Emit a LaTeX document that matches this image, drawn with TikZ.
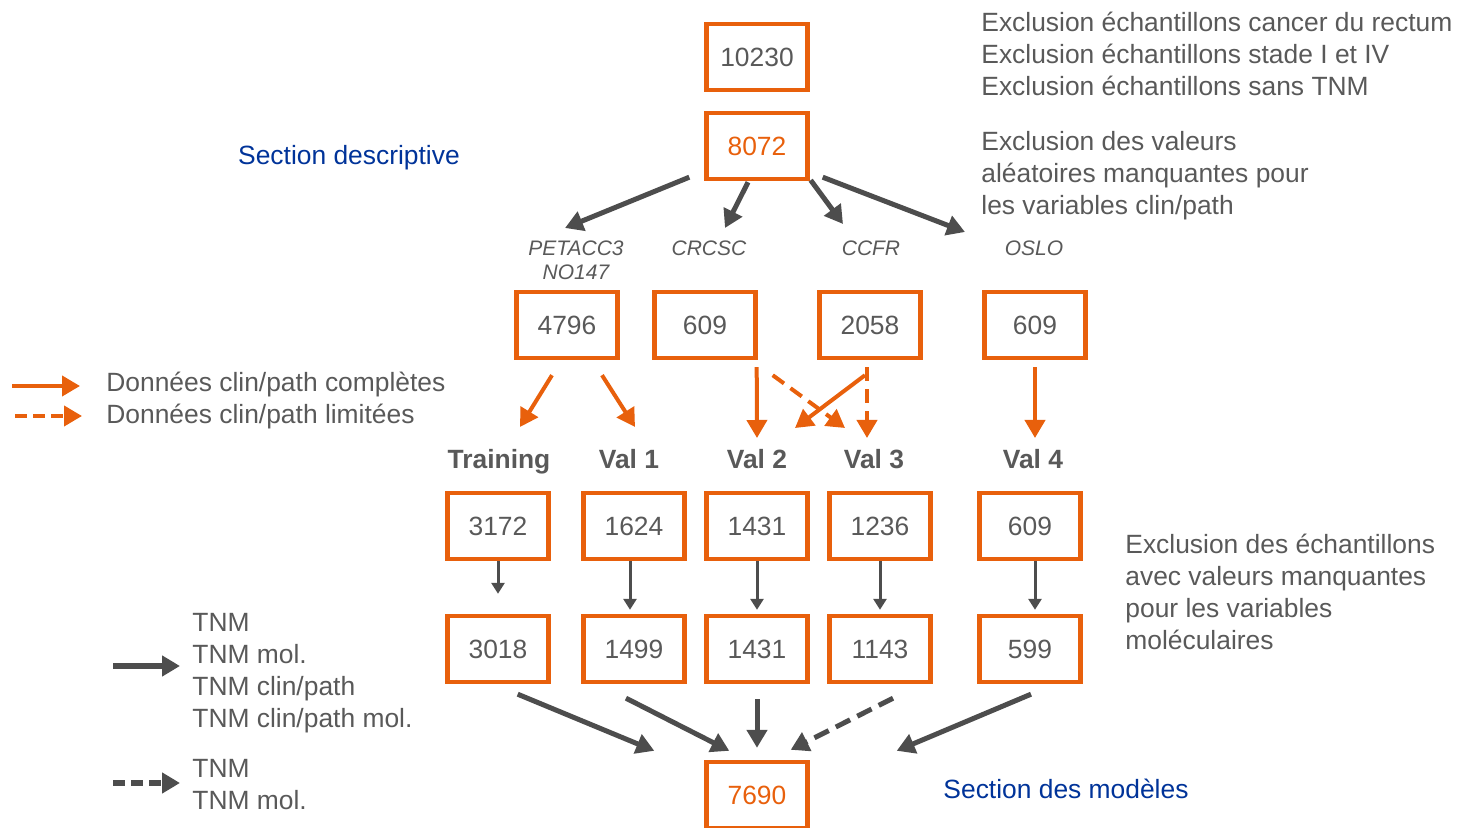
\documentclass[tikz,border=0pt]{standalone}
\usepackage{fontspec}
\setmainfont{Liberation Sans}
\usepackage{xcolor}
\usepackage{tikz}
\usetikzlibrary{positioning,calc}
\usetikzlibrary{arrows.meta,shapes}
\definecolor{orng}{RGB}{232,96,12}
\definecolor{dgray}{RGB}{77,77,77}
\definecolor{tgray}{RGB}{89,89,89}
\definecolor{dblue}{RGB}{0,51,153}
\tikzstyle{block} = [rectangle,draw=orng,line width=2.2pt,minimum width=50.5pt,minimum height=33pt,inner sep=0pt,text=tgray,font=\fontsize{13.2}{16}\selectfont]
\tikzstyle{lab} = [inner sep=0pt,align=center,text=tgray,font=\fontsize{10.5}{12}\selectfont\itshape]
\tikzstyle{head} = [inner sep=0pt,yshift=-1.5pt,text height=9.6pt,text depth=2.8pt,text=tgray,font=\fontsize{13.2}{16}\selectfont\bfseries]
\tikzstyle{txt} = [inner sep=0pt,yshift=-1.5pt,align=left,anchor=west,text=tgray,font=\fontsize{13.2}{16}\selectfont]
\tikzstyle{line} = [-{Triangle[length=9pt,width=10pt]},draw=dgray,line width=2.5pt]
\tikzstyle{oline} = [-{Triangle[length=9pt,width=10pt]},draw=orng,line width=2pt]
\tikzstyle{sline} = [-{Triangle[length=5.5pt,width=6.5pt]},draw=dgray,line width=1.5pt]

\begin{document}
\begin{tikzpicture}[x=0.5pt,y=-0.5pt]
        \useasboundingbox (0,0) rectangle (1458,828);
        % top of the tree
        \node[block] (n10230) at (757,57) {10230};
        \node[block,text=orng] (n8072) at (757,146) {8072};
        \node[txt,yshift=1.5pt] (excl1) at (981,54) {Exclusion échantillons cancer du rectum\\Exclusion échantillons stade I et IV\\Exclusion échantillons sans TNM};
        \node[txt] (excl2) at (981,173) {Exclusion des valeurs\\aléatoires manquantes pour\\les variables clin/path};
        \node[txt,anchor=center,text=dblue] (secdesc) at (349,155) {Section descriptive};
        % cohorts
        \node[lab] (lpetacc) at (576,260) {PETACC3\\NO147};
        \node[lab] (lcrcsc) at (709,248) {CRCSC};
        \node[lab] (lccfr) at (871,248) {CCFR};
        \node[lab] (loslo) at (1034,248) {OSLO};
        \node[block] (p4796) at (567,325) {4796};
        \node[block] (p609a) at (705,325) {609};
        \node[block] (p2058) at (870,325) {2058};
        \node[block] (p609b) at (1035,325) {609};
        \draw[line] ($(n8072.south west)+(-15,-4)$) -- ($(lpetacc)+(-11,-32)$);
        \draw[line] ($(n8072.south)+(-9,1)$) -- ($(lcrcsc)+(16,-20)$);
        \draw[line] ($(n8072.south east)+(1,-1)$) -- ($(lccfr)+(-28,-24)$);
        \draw[line] ($(n8072.south east)+(13,-4)$) -- ($(loslo)+(-69,-16)$);
        % orange legend
        \node[txt] (lgfull) at (106,382) {Données clin/path complètes};
        \node[txt] (lglim) at (106,414) {Données clin/path limitées};
        \draw[oline] ($(lgfull.west)+(-94,1)$) -- ($(lgfull.west)+(-26,1)$);
        \draw[oline,dash pattern=on 6pt off 3pt] ($(lglim.west)+(-91,-1)$) -- ($(lglim.west)+(-24,-1)$);
        % training / validation sets
        \node[head] (ltrain) at (499,459) {Training};
        \node[head] (lval1) at (629,459) {Val 1};
        \node[head] (lval2) at (757,459) {Val 2};
        \node[head] (lval3) at (874,459) {Val 3};
        \node[head] (lval4) at (1033,459) {Val 4};
        \draw[oline] ($(p4796.south)+(-15,15)$) -- ($(ltrain)+(21,-35)$);
        \draw[oline] ($(p4796.south)+(35,15)$) -- ($(lval1)+(6,-35)$);
        \draw[oline] ($(p609a.south east)+(-1,7)$) -- ($(lval2)+(0,-24)$);
        \draw[oline] ($(p2058.south)+(-5,15)$) -- ($(lval2)+(38,-34)$);
        \draw[oline] ($(p609b.south)+(0,7)$) -- ($(lval4)+(2,-24)$);
        \draw[oline,dash pattern=on 7pt off 4pt] ($(p609a.south east)+(15,15)$) -- ($(lval3)+(-29,-34)$);
        \draw[oline,dash pattern=on 7pt off 4pt] ($(p2058.south)+(-3,7)$) -- ($(lval3)+(-7,-24)$);
        \node[block] (t3172) at (498,526) {3172};
        \node[block] (t1624) at (634,526) {1624};
        \node[block] (t1431) at (757,526) {1431};
        \node[block] (t1236) at (880,526) {1236};
        \node[block] (t609) at (1030,526) {609};
        \node[block] (m3018) at (498,649) {3018};
        \node[block] (m1499) at (634,649) {1499};
        \node[block] (m1431) at (757,649) {1431};
        \node[block] (m1143) at (880,649) {1143};
        \node[block] (m599) at (1030,649) {599};
        \draw[sline,shorten >=10pt] (t3172) -- (m3018);
        \draw[sline,shorten >=2pt] ([xshift=-2pt]t1624.south) -- ([xshift=-2pt]m1499.north);
        \draw[sline,shorten >=2pt] (t1431) -- (m1431);
        \draw[sline,shorten >=2pt] (t1236) -- (m1143);
        \draw[sline,shorten >=2pt] ([xshift=2.5pt]t609.south) -- ([xshift=2.5pt]m599.north);
        \node[txt,yshift=1.5pt] (excl3) at (1125,592) {Exclusion des échantillons\\avec valeurs manquantes\\pour les variables\\moléculaires};
        % models
        \node[block,text=orng] (n7690) at (757,795) {7690};
        \node[txt,anchor=center,text=dblue,yshift=1.5pt] (secmod) at (1066,789) {Section des modèles};
        \draw[line] ($(m3018.south east)+(-33,10)$) -- ($(n7690.north west)+(-50,-9)$);
        \draw[line] ($(m1499.south)+(-8,14)$) -- ($(n7690.north west)+(25,-9)$);
        \draw[line] ($(m1431.south)+(0,15)$) -- ($(n7690.north)+(0,-12)$);
        \draw[line] ($(m599.south)+(1,10)$) -- ($(n7690.north east)+(87,-9)$);
        \draw[line,dash pattern=on 8pt off 4pt] ($(m1143.south)+(13,14)$) -- ($(n7690.north east)+(-19,-10)$);
        % gray legend
        \node[txt] (lgsolid) at (192,670) {TNM\\TNM mol.\\TNM clin/path\\TNM clin/path mol.};
        \node[txt,yshift=1pt] (lgdash) at (192,784) {TNM\\TNM mol.};
        \draw[line,line width=3pt] ($(lgsolid.west)+(-79,-7)$) -- ($(lgsolid.west)+(-12,-7)$);
        \draw[line,line width=3pt,dash pattern=on 6pt off 3pt] ($(lgdash.west)+(-79,-2)$) -- ($(lgdash.west)+(-12,-2)$);
    \end{tikzpicture}
\end{document}
